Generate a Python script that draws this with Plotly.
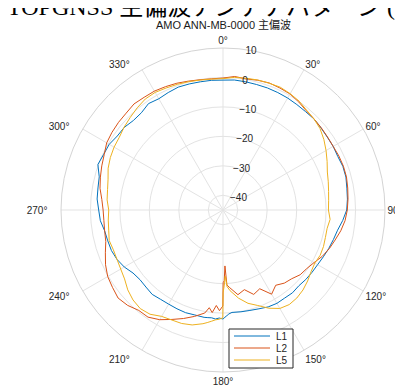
import plotly.graph_objects as go

# angles (deg, clockwise from top) for the measured patterns
theta = [0, 5, 10, 15, 20, 25, 30, 35, 40, 45, 50, 55, 60, 65, 70, 75, 80, 85, 90,
         95, 100, 105, 110, 115, 120, 125, 130, 135, 140, 145, 150, 155, 160, 165,
         170, 175, 177, 178, 179, 179.9, 180.1, 182, 184, 186, 188, 190, 195, 200,
         205, 210, 215, 220, 225, 230, 235, 240, 245, 250, 255, 260, 265, 270, 275,
         280, 285, 290, 295, 300, 305, 310, 315, 320, 325, 330, 335, 340, 345, 350,
         355, 360]

L1 = [-0.9, -0.7, -0.8, -0.9, -0.9, -1.0, -1.1, -1.3, -1.4, -1.3, -1.6, -1.8, -1.8,
      -2.0, -1.7, -1.8, -2.3, -2.6, -3.0, -4.2, -5.5, -6.2, -6.8, -7.4, -7.9, -8.1,
      -8.3, -8.6, -8.3, -8.5, -8.4, -8.7, -9.3, -9.7, -9.9, -10.1, -9.6, -9.0, -8.6,
      -8.0, -8.0, -8.3, -7.9, -8.2, -8.1, -8.0, -8.1, -7.9, -8.0, -8.1, -8.0, -7.6,
      -8.0, -8.2, -7.7, -6.3, -5.3, -4.7, -4.5, -4.2, -3.2, -2.8, -2.1, -1.9, -1.5,
      0.2, -0.3, -0.4, -1.2, -1.3, -2.0, -1.9, -0.9, -1.4, -1.0, -0.6, -0.7, -0.8,
      -0.8, -0.9]

L2 = [-0.2, 0.5, 0.2, 0.6, 0.9, 0.7, 0.5, -0.2, -1.0, -1.3, -1.5, -1.7, -1.8, -1.6,
      -1.5, -1.6, -2.0, -2.4, -2.8, -3.4, -4.4, -5.6, -6.6, -7.8, -9.3, -10.3, -10.8,
      -12.0, -12.6, -13.8, -12.0, -15.5, -14.5, -17.0, -15.8, -18.5, -19.5, -26.0,
      -21.0, -20.3, -12.4, -10.8, -12.5, -10.0, -11.5, -9.5, -7.6, -5.8, -4.0, -2.0,
      -0.6, -0.5, 0.8, 1.5, 0.8, 0.2, -1.0, -2.5, -3.8, -4.2, -4.4, -4.3, -3.7, -2.6,
      -1.9, -1.2, -0.5, 0.6, 1.0, 1.3, 1.5, 2.0, 1.7, 1.6, 1.2, 0.8, 0.3, -0.1, -0.3,
      -0.2]

L5 = [-0.4, 0.2, 0.4, 0.7, 0.8, 1.0, 0.6, 0.1, -0.8, -1.3, -2.0, -3.2, -4.6, -6.0,
      -7.3, -8.0, -8.6, -9.0, -9.2, -8.5, -9.1, -9.0, -8.7, -8.6, -9.0, -8.5, -7.5,
      -6.6, -6.0, -5.8, -6.4, -8.2, -10.5, -12.2, -14.6, -17.5, -19.0, -22.5, -19.5,
      -17.0, -8.4, -7.9, -7.6, -7.0, -6.4, -5.8, -4.6, -4.0, -3.8, -3.3, -1.8, -1.3,
      -1.8, -2.8, -4.2, -4.9, -5.3, -5.4, -5.0, -5.6, -5.9, -6.2, -5.5, -5.2, -4.6,
      -3.5, -2.8, -2.3, -2.0, -1.2, -0.5, 0.3, 1.0, 1.1, 0.7, 0.4, 0.1, -0.2, -0.4,
      -0.4]

series_names = ["L1", "L2", "L5"]
series_colors = ["#0072BD", "#D95319", "#EDB120"]

angle_ticks = [0, 30, 60, 90, 120, 150, 180, 210, 240, 270, 300, 330]
radial_ticks = [-40, -30, -20, -10, 0, 10]
radial_range = [-45, 10]

title_text = "AMO ANN-MB-0000 主偏波"
page_heading = "TOPGNSS 主偏波アンテナパターン (L1/L2/L5)"

W, H = 403, 385
fig = go.Figure()
for name, vals, col in zip(series_names, [L1, L2, L5], series_colors):
    fig.add_trace(go.Scatterpolar(r=vals, theta=theta, mode="lines", name=name,
                                  line=dict(color=col, width=1), showlegend=False))

cx, cy, R = 215, 202, 162

# left-hand angle labels sit a little further out in the original
pad = "\u00a0" * 4
angle_text = [f"{a}°" + (pad if 180 < a < 360 else "") for a in angle_ticks]

# compact legend box (drawn as decoration in paper coordinates)
lg_x0, lg_x1, lg_y0, lg_y1 = 221, 285, 321, 360
lg_rows = [328, 340, 352]
shapes = [dict(type="rect", xref="paper", yref="paper",
               x0=lg_x0 / W, x1=lg_x1 / W, y0=1 - lg_y1 / H, y1=1 - lg_y0 / H,
               line=dict(color="#262626", width=1), fillcolor="white", layer="above")]
annotations = []
for name, col, yy in zip(series_names, series_colors, lg_rows):
    shapes.append(dict(type="line", xref="paper", yref="paper",
                       x0=226 / W, x1=262 / W, y0=1 - yy / H, y1=1 - yy / H,
                       line=dict(color=col, width=1), layer="above"))
    annotations.append(dict(text=name, x=266 / W, y=1 - yy / H, xref="paper",
                            yref="paper", xanchor="left", yanchor="middle",
                            showarrow=False, font=dict(size=10, color="#262626")))

annotations += [
    dict(text=title_text, x=cx / W, y=1 - 17 / H, xref="paper", yref="paper",
         xanchor="center", yanchor="middle", showarrow=False,
         font=dict(size=11, color="#1a1a1a", family="Liberation Sans, Noto Sans CJK JP")),
    dict(text=page_heading, x=0, y=1, xref="paper", yref="paper",
         xanchor="left", yanchor="bottom", yshift=-13, xshift=-2, showarrow=False,
         borderpad=0,
         font=dict(size=24, color="#000000", family="Liberation Serif, Noto Sans CJK JP")),
]

fig.update_layout(
    width=W, height=H,
    margin=dict(l=0, r=0, t=0, b=0, autoexpand=False),
    paper_bgcolor="white",
    font=dict(family="Liberation Sans, Noto Sans CJK JP", size=10, color="#262626"),
    showlegend=False,
    polar=dict(
        domain=dict(x=[(cx - R) / W, (cx + R) / W], y=[1 - (cy + R) / H, 1 - (cy - R) / H]),
        bgcolor="white",
        angularaxis=dict(rotation=90, direction="clockwise", tickmode="array",
                         tickvals=angle_ticks, ticktext=angle_text,
                         ticks="", showline=True, linecolor="#d4d4d4", linewidth=1,
                         gridcolor="#e3e3e3", gridwidth=1,
                         tickfont=dict(size=10, color="#262626")),
        radialaxis=dict(range=radial_range, tickmode="array", tickvals=radial_ticks,
                        angle=84, tickangle=84, side="clockwise",
                        showline=False, ticks="",
                        gridcolor="#e3e3e3", gridwidth=1,
                        tickfont=dict(size=10, color="#262626")),
    ),
    shapes=shapes,
    annotations=annotations,
)

fig.write_html("out.html")
